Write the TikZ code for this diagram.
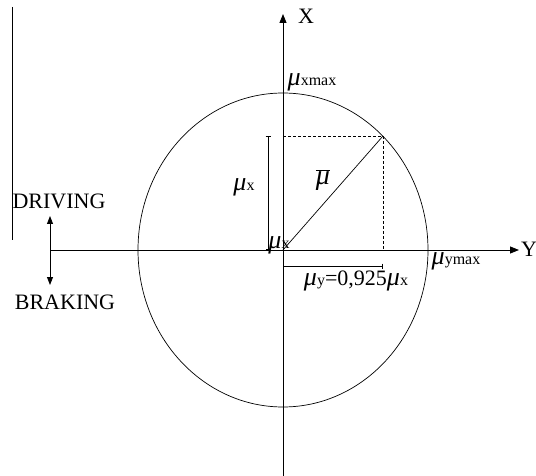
\documentclass[tikz,border=0pt]{standalone}
\usepackage{fontspec}
\setmainfont{Liberation Serif}
\usetikzlibrary{arrows.meta}
\newcommand{\musub}[1]{{\fontsize{26}{26}\selectfont\itshape μ}{\fontsize{16}{16}\selectfont #1}}
\tikzset{
  lbl/.style={inner sep=0pt, font=\fontsize{22}{24}\selectfont},
  axis/.style={line width=0.9pt, -{Triangle[length=9pt,width=7pt]}},
  dbl/.style={line width=0.9pt, {Triangle[length=8pt,width=6pt]}-{Triangle[length=8pt,width=6pt]}},
  thin/.style={line width=0.7pt},
  dim/.style={line width=0.7pt, {Bar[width=5pt]}-{Bar[width=5pt]}},
  dsh/.style={line width=0.7pt, dash pattern=on 3pt off 2pt}
}
\begin{document}
\begin{tikzpicture}[x=1pt,y=-1pt]
\useasboundingbox (0,0) rectangle (536,476);
% key points
\coordinate (O) at (283,250);
\coordinate (vbot) at (283,476);
\coordinate (vtop) at (283,14);
\coordinate (hl) at (50,250);
\coordinate (hr) at (519,250);
\coordinate (P) at (383,136);
\coordinate (Px) at (283,136);
\coordinate (Py) at (383,250);
\coordinate (d1) at (268,136);
\coordinate (d2) at (268,250);
\coordinate (e1) at (283,266);
\coordinate (e2) at (383,266);
\coordinate (L1) at (12,7);
\coordinate (L2) at (12,240);
\coordinate (a1) at (50,216);
\coordinate (a2) at (50,285);
% left line
\draw[thin] (L1) -- (L2);
% ellipse
\draw[thin] (O) ellipse [x radius=145, y radius=157];
% axes
\draw[axis] (vbot) -- (vtop);
\draw[axis] (hl) -- (hr);
\draw[dbl] (a1) -- (a2);
% dashed projection and vector
\draw[dsh] (Px) -- (P) -- (Py);
\draw[thin] (O) -- (P);
% dimension lines
\draw[dim] (d1) -- (d2);
\draw[dim] (e1) -- (e2);
% labels
\node[lbl] (xl) at (306,16) {X};
\node[lbl] (yl) at (529,249) {Y};
\node[lbl] (drv) at (59,201) {DRIVING};
\node[lbl] (brk) at (65,302) {BRAKING};
\node[lbl] (mxd) at (244,187) {\musub{x}};
\node[lbl] (mxo) at (279,245) {\musub{x}};
\node[lbl] (mub) at (323,180) {\fontsize{28}{28}\selectfont$\overline{\mbox{\itshape μ}}$};
\node[lbl] (mxmax) at (312,82) {\musub{xmax}};
\node[lbl] (mymax) at (456,261) {\musub{ymax}};
\node[lbl] (myv) at (356,281) {\musub{y}=0,925\musub{x}};
\end{tikzpicture}
\end{document}
